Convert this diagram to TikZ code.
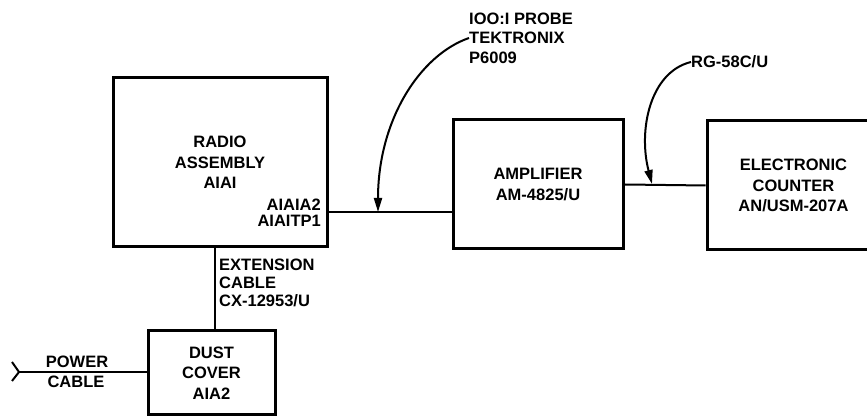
\documentclass[tikz,border=0pt]{standalone}
\usepackage{fontspec}
\setmainfont{Liberation Sans}
\usetikzlibrary{arrows.meta}
\begin{document}
\begin{tikzpicture}[x=1pt,y=1pt,
  lbl/.style={font=\fontsize{16.5}{20}\selectfont\bfseries, inner sep=0pt},
  blk/.style={draw, line width=3pt, inner sep=0pt, align=center,
              font=\fontsize{16.5}{20.5}\selectfont\bfseries},
  wire/.style={line width=2pt},
  lead/.style={line width=2pt, -{Triangle[length=14pt,width=8pt]}}]
\useasboundingbox (0,0) rectangle (867,419);
% blocks
\node[blk, minimum width=214pt, minimum height=169pt] (radio) at (220,256.5) {RADIO\\ASSEMBLY\\AIAI};
\node[blk, minimum width=170pt, minimum height=129pt] (amp) at (538,234.5) {AMPLIFIER\\AM-4825/U};
\node[blk, minimum width=173pt, minimum height=129pt] (counter) at (793.5,233.5) {ELECTRONIC\\COUNTER\\AN/USM-207A};
\node[blk, minimum width=127pt, minimum height=84pt] (dust) at (211.5,46) {DUST\\COVER\\AIA2};
% labels
\node[lbl, anchor=east, align=right, font=\fontsize{16.5}{16}\selectfont\bfseries] (tp) at (321,206) {AIAIA2\\AIAITP1};
\node[lbl, anchor=west, align=left, font=\fontsize{16.5}{18}\selectfont\bfseries] (ext) at (219,136) {EXTENSION\\CABLE\\CX-12953/U};
\node[lbl, anchor=west, align=left, font=\fontsize{16.5}{19.5}\selectfont\bfseries] (probe) at (469,381) {IOO:I PROBE\\TEKTRONIX\\P6009};
\node[lbl, anchor=west] (rg) at (691,357) {RG-58C/U};
\node[lbl] (power) at (77,57) {POWER};
\node[lbl] (pcable) at (76,37) {CABLE};
% connectors
\coordinate (p1) at (radio.east |- 0,207);
\coordinate (fork) at (19,47);
\draw[wire] (p1) -- (p1 -| amp.west);
\draw[wire] (amp.east) -- (counter.west);
\draw[wire] ([xshift=-5pt]radio.south) -- ([xshift=3.5pt]dust.north);
\draw[wire] (fork) -- (fork -| dust.west);
\draw[wire] (12,57) -- (fork) -- (12,38);
% leaders
\coordinate (pt1) at (378,207);
\coordinate (pt2) at (652,235);
\draw[lead] (probe.west |- 0,381) .. controls (420,364) and (378,299) .. (pt1);
\draw[lead] (rg.west) .. controls (650,347) and (638,289) .. (pt2);
\end{tikzpicture}
\end{document}
